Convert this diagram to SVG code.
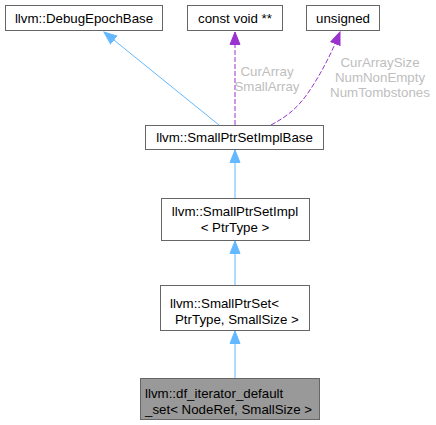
<svg xmlns="http://www.w3.org/2000/svg" width="436" height="425" viewBox="0 0 436 425">
<style>
.box{fill:#ffffff;stroke:#666666;stroke-width:1}
.cur{fill:#999999;stroke:#666666;stroke-width:1}
text{font-family:"Liberation Sans",Arial,sans-serif;font-size:13.3px;fill:#000000}
.lbl{fill:#bebebe}
.inh{fill:none;stroke:#63b8ff;stroke-width:1}
.use{fill:none;stroke:#9a32cd;stroke-width:1;stroke-dasharray:5,2}
</style>
<defs>
<marker id="ab" viewBox="0 0 14 12" refX="13" refY="6" markerWidth="14" markerHeight="12" markerUnits="userSpaceOnUse" orient="auto">
<path d="M0.5,1 L13,6 L0.5,11 Z" fill="#63b8ff" stroke="#63b8ff"/>
</marker>
<marker id="ap" viewBox="0 0 14 12" refX="13" refY="6" markerWidth="14" markerHeight="12" markerUnits="userSpaceOnUse" orient="auto">
<path d="M0.5,1 L13,6 L0.5,11 Z" fill="#9a32cd" stroke="#9a32cd"/>
</marker>
</defs>
<g id="connectors">
<path class="inh" d="M219,125 L104,32" marker-end="url(#ab)"/>
<path class="use" d="M235,125 L235,32" marker-end="url(#ap)"/>
<text class="lbl" x="267" y="76" text-anchor="middle">CurArray</text>
<text class="lbl" x="267" y="91" text-anchor="middle">SmallArray</text>
<path class="use" d="M271,125 C290,115 300,105 310,90 C322,72 332,52 340,32" marker-end="url(#ap)"/>
<text class="lbl" x="380" y="67" text-anchor="middle">CurArraySize</text>
<text class="lbl" x="380" y="82" text-anchor="middle">NumNonEmpty</text>
<text class="lbl" x="380" y="97" text-anchor="middle">NumTombstones</text>
<path class="inh" d="M235,198 L235,150" marker-end="url(#ab)"/>
<path class="inh" d="M235,285 L235,241" marker-end="url(#ab)"/>
<path class="inh" d="M235,378 L235,331" marker-end="url(#ab)"/>
</g>
<g id="node_debugepochbase">
<rect class="box" x="5.5" y="5.5" width="157" height="25"/>
<text x="84" y="22.5" text-anchor="middle">llvm::DebugEpochBase</text>
</g>
<g id="node_constvoid">
<rect class="box" x="187.5" y="5.5" width="95" height="25"/>
<text x="235" y="22.5" text-anchor="middle">const void **</text>
</g>
<g id="node_unsigned">
<rect class="box" x="306.5" y="5.5" width="73" height="25"/>
<text x="343" y="22.5" text-anchor="middle">unsigned</text>
</g>
<g id="node_smallptrsetimplbase">
<rect class="box" x="145.5" y="125.5" width="178" height="24"/>
<text x="234.5" y="142" text-anchor="middle">llvm::SmallPtrSetImplBase</text>
</g>
<g id="node_smallptrsetimpl">
<rect class="box" x="161.5" y="198.5" width="148" height="42"/>
<text x="235" y="215.5" text-anchor="middle">llvm::SmallPtrSetImpl</text>
<text x="235" y="232" text-anchor="middle">&lt; PtrType &gt;</text>
</g>
<g id="node_smallptrset">
<rect class="box" x="160.5" y="285.5" width="149" height="45"/>
<text x="170" y="307.5">llvm::SmallPtrSet&lt;</text>
<text x="175" y="323.5">PtrType, SmallSize &gt;</text>
</g>
<g id="node_df_iterator_default_set">
<rect class="cur" x="140.5" y="378.5" width="179" height="41"/>
<text x="145" y="397.5">llvm::df_iterator_default</text>
<text x="145" y="413.5">_set&lt; NodeRef, SmallSize &gt;</text>
</g>
</svg>
